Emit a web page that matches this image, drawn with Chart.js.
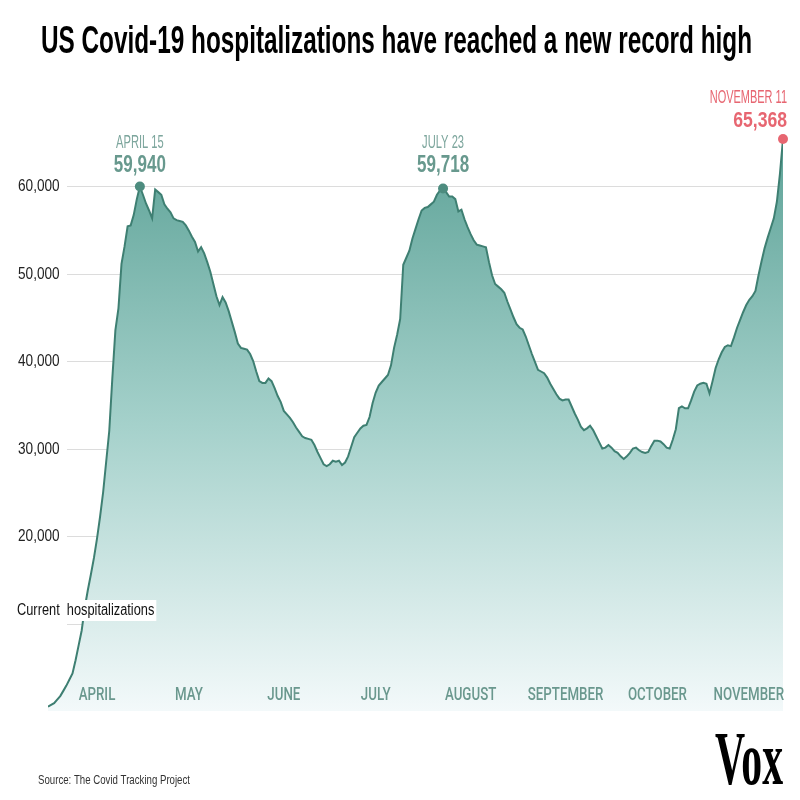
<!DOCTYPE html>
<html>
<head>
<meta charset="utf-8">
<script src="https://cdn.jsdelivr.net/npm/chart.js@4"></script>
<style>
  body { margin: 0; background: #fff; }
  canvas { display: block; }
</style>
</head>
<body>
<canvas id="chart" width="800" height="800"></canvas>
<script>
// Current hospitalizations, one value per day starting March 16 (day 0) up to November 11 (day 240)
const hospitalized = [
  500, 700, 900, 1300, 1700, 2300, 2900, 3600, 4300, 5800,
  7500, 9200, 11800, 13800, 15600, 17500, 19700, 22200, 25000, 28500,
  32000, 38000, 43500, 46000, 51100, 53100, 55400, 55500, 56700, 58500,
  59940, 59000, 58000, 57200, 56300, 59600, 59300, 59000, 57900, 57400,
  57000, 56300, 56100, 56000, 55900, 55500, 54900, 54200, 53600, 52500,
  53000, 52300, 51300, 50200, 48800, 47400, 46400, 47300, 46700, 45700,
  44500, 43300, 42000, 41500, 41400, 41300, 40800, 40000, 38800, 37700,
  37500, 37500, 38000, 37700, 36900, 36000, 35300, 34300, 33900, 33500,
  33000, 32400, 31900, 31400, 31200, 31100, 31000, 30400, 29600, 28900,
  28200, 28000, 28200, 28600, 28500, 28600, 28100, 28400, 29100, 30200,
  31300, 31800, 32300, 32600, 32700, 33600, 35200, 36400, 37200, 37600,
  38000, 38400, 39500, 41500, 43000, 44800, 51000, 51800, 52600, 54000,
  55100, 56200, 57200, 57500, 57600, 57900, 58200, 59000, 59500, 59718,
  59300, 58800, 58800, 58500, 57100, 57300, 56200, 55300, 54500, 53800,
  53300, 53200, 53100, 53000, 51300, 49800, 48800, 48500, 48200, 47800,
  46800, 45900, 45000, 44200, 43800, 43600, 42800, 41800, 40800, 39900,
  39000, 38800, 38600, 38100, 37400, 36800, 36200, 35700, 35500, 35600,
  35600, 34800, 34000, 33300, 32500, 32100, 32300, 32600, 32100, 31400,
  30700, 30000, 30100, 30400, 30100, 29700, 29500, 29100, 28800, 29100,
  29500, 30000, 30100, 29800, 29600, 29500, 29600, 30300, 30900, 30900,
  30800, 30500, 30100, 30000, 31000, 32200, 34600, 34800, 34600, 34600,
  35500, 36500, 37200, 37400, 37500, 37400, 36300, 37700, 39200, 40200,
  41000, 41600, 41800, 41700, 42700, 43800, 44700, 45600, 46400, 47000,
  47400, 48000, 49800, 51400, 52900, 54100, 55200, 56300, 58200, 61400,
  65368
];

const monthLabels = ['APRIL', 'MAY', 'JUNE', 'JULY', 'AUGUST', 'SEPTEMBER', 'OCTOBER', 'NOVEMBER'];
const monthStartDays = [16, 46, 77, 107, 138, 169, 199, 230];

const yTicks = [10000, 20000, 30000, 40000, 50000, 60000];
const yTickLabels = ['', '20,000', '30,000', '40,000', '50,000', '60,000'];

const peakDays = [30, 129, 240];
const peakValues = [59940, 59718, 65368];
const peakDates = ['APRIL 15', 'JULY 23', 'NOVEMBER 11'];
const peakTexts = ['59,940', '59,718', '65,368'];

const TEAL_LINE = 'rgb(62,127,114)';
const TEAL_TEXT = 'rgb(125,166,157)';
const TEAL_VALUE = 'rgb(104,153,142)';
const RED = 'rgb(231,102,113)';
const MONTH_FONT = '500 19px Roboto, "Liberation Sans"';

// draws horizontally squeezed text (stand-in for the condensed house font)
function squeezedText(ctx, text, x, y, font, color, sx, align, baseline) {
  ctx.save();
  ctx.font = font;
  ctx.fillStyle = color;
  ctx.textBaseline = baseline || 'alphabetic';
  ctx.textAlign = 'left';
  const w = ctx.measureText(text).width * sx;
  let left = x;
  if (align === 'center') left = x - w / 2;
  if (align === 'right') left = x - w;
  ctx.translate(left, y);
  ctx.scale(sx, 1);
  ctx.fillText(text, 0, 0);
  ctx.restore();
  return { left: left, width: w };
}

function fitText(ctx, text, x, y, font, color, width, baseline) {
  ctx.save();
  ctx.font = font;
  const sx = width / ctx.measureText(text).width;
  ctx.restore();
  return squeezedText(ctx, text, x, y, font, color, sx, 'left', baseline);
}

const decorPlugin = {
  id: 'decor',
  beforeDatasetsDraw(chart) {
    const { ctx, chartArea, scales } = chart;
    const y = scales.y;
    ctx.save();
    ctx.strokeStyle = '#dcdcdc';
    ctx.lineWidth = 1;
    yTicks.forEach((t, i) => {
      const py = Math.round(y.getPixelForValue(t)) + 0.5;
      ctx.beginPath();
      ctx.moveTo(67, py);
      ctx.lineTo(chartArea.right, py);
      ctx.stroke();
      if (yTickLabels[i]) {
        squeezedText(ctx, yTickLabels[i], 18, py, '16px "Liberation Sans"', '#222', 0.85, 'left', 'middle');
      }
    });
    ctx.restore();
  },
  afterDatasetsDraw(chart) {
    const { ctx, chartArea, scales } = chart;
    const x = scales.x;

    // month labels
    monthLabels.forEach((m, i) => {
      let px = x.getPixelForValue(monthStartDays[i]);
      ctx.save();
      ctx.font = MONTH_FONT;
      const w = ctx.measureText(m).width * 0.7;
      ctx.restore();
      if (px + w / 2 > chartArea.right + 1) px = chartArea.right + 1 - w / 2;
      squeezedText(ctx, m, px, 695, MONTH_FONT, 'rgb(106,152,142)', 0.7, 'center', 'middle');
    });

    // peak annotations
    peakDays.forEach((d, i) => {
      const last = i === peakDays.length - 1;
      const px = x.getPixelForValue(d);
      const dateColor = last ? RED : TEAL_TEXT;
      const valColor = last ? RED : TEAL_VALUE;
      if (last) {
        squeezedText(ctx, peakDates[i], 787, 102.5, '18px "Liberation Sans"', dateColor, 0.61, 'right');
        squeezedText(ctx, peakTexts[i], 787, 126.5, 'bold 22px "Liberation Sans"', valColor, 0.8, 'right');
      } else {
        squeezedText(ctx, peakDates[i], px, 148, '18px "Liberation Sans"', dateColor, 0.62, 'center');
        squeezedText(ctx, peakTexts[i], px, 171.5, 'bold 23px "Liberation Sans"', valColor, 0.74, 'center');
      }
    });

    // series label with white backing
    ctx.save();
    ctx.font = '16px "Liberation Sans"';
    const lw = ctx.measureText('Current  hospitalizations').width * 0.8;
    ctx.fillStyle = '#fff';
    ctx.fillRect(14, 600, lw + 5, 21);
    ctx.restore();
    squeezedText(ctx, 'Current  hospitalizations', 17, 611, '16px "Liberation Sans"', '#111', 0.8, 'left', 'middle');
  },
  afterDraw(chart) {
    const { ctx } = chart;
    fitText(ctx, 'US Covid-19 hospitalizations have reached a new record high', 41, 53, 'bold 39px "Liberation Sans"', '#000', 711);
    fitText(ctx, 'Source: The Covid Tracking Project', 38, 784, '13px "Liberation Sans"', '#333', 152);
    fitText(ctx, 'Vox', 715, 784, 'bold 77px "Liberation Serif"', '#000', 68);
  }
};

new Chart(document.getElementById('chart').getContext('2d'), {
  type: 'line',
  data: {
    datasets: [
      {
        type: 'scatter',
        data: peakDays.map((d, i) => ({ x: d, y: peakValues[i] })),
        pointRadius: 5,
        pointBackgroundColor: ['rgb(77,140,127)', 'rgb(77,140,127)', RED],
        pointBorderWidth: 0,
        clip: false,
        order: 0
      },
      {
        data: hospitalized.map((v, i) => ({ x: i, y: v })),
        borderColor: TEAL_LINE,
        borderWidth: 2,
        pointRadius: 0,
        tension: 0,
        fill: 'origin',
        order: 1,
        backgroundColor: function(context) {
          const chart = context.chart;
          const area = chart.chartArea;
          if (!area) return 'rgba(120,180,170,0.6)';
          const g = chart.ctx.createLinearGradient(0, 140, 0, area.bottom);
          g.addColorStop(0, 'rgb(94,163,152)');
          g.addColorStop(0.5, 'rgb(165,209,203)');
          g.addColorStop(1, 'rgb(243,249,250)');
          return g;
        }
      }
    ]
  },
  options: {
    responsive: false,
    animation: false,
    layout: { padding: { left: 48, right: 17, top: 98.5, bottom: 89 } },
    plugins: {
      legend: { display: false },
      tooltip: { enabled: false }
    },
    scales: {
      x: { type: 'linear', min: 0, max: 240, display: false },
      y: { min: 0, max: 70000, display: false }
    }
  },
  plugins: [decorPlugin]
});
</script>
</body>
</html>
